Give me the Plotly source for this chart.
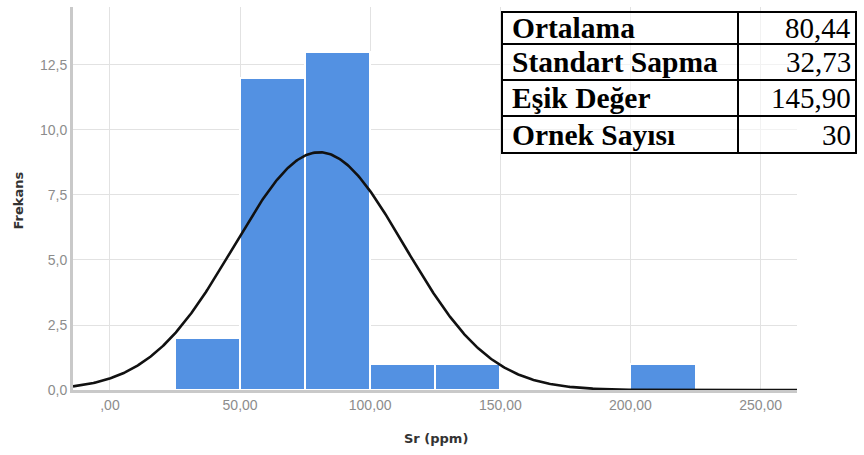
import numpy as np
import plotly.graph_objects as go

# Histogram of Sr (ppm): bin edges (width 25) and frequencies
bin_left = [25, 50, 75, 100, 125, 150, 175, 200]
bin_width = 25
counts = [2, 12, 13, 1, 1, 0, 0, 1]

# Summary statistics shown in the table
stat_labels = ["Ortalama", "Standart Sapma", "Eşik Değer", "Ornek Sayısı"]
stat_values = ["80,44", "32,73", "145,90", "30"]
mean_sr = 80.44
sd_sr = 32.73
n_samples = 30

# Axis ticks (Turkish decimal comma)
x_tickvals = [0, 50, 100, 150, 200, 250]
x_ticktext = [",00", "50,00", "100,00", "150,00", "200,00", "250,00"]
y_tickvals = [0, 2.5, 5, 7.5, 10, 12.5]
y_ticktext = ["0,0", "2,5", "5,0", "7,5", "10,0", "12,5"]

X_RANGE = [-14.2, 264]
Y_RANGE = [0, 14.73]

centers = [b + bin_width / 2 for b in bin_left]

# Fitted normal curve scaled to histogram frequencies
xs = np.linspace(X_RANGE[0], X_RANGE[1], 600)
ys = n_samples * bin_width / (sd_sr * np.sqrt(2 * np.pi)) * np.exp(-0.5 * ((xs - mean_sr) / sd_sr) ** 2)

fig = go.Figure()
fig.add_trace(go.Bar(
    x=centers, y=counts, width=bin_width,
    marker=dict(color="#5391e2", line=dict(color="white", width=2)),
    hoverinfo="skip",
))
fig.add_trace(go.Scatter(
    x=xs, y=ys, mode="lines",
    line=dict(color="#111111", width=2.6),
    hoverinfo="skip",
))

W, H = 864, 455
L, R, T, B = 73, 797, 7, 390


def px(x):
    return (x - L) / (R - L)


def py(y):
    return (B - y) / (B - T)


shapes = []
annotations = []

# Statistics table
tbl_left, tbl_right, col_split = 502, 856, 738
row_edges = [12, 44, 80, 116, 153]
shapes.append(dict(type="rect", xref="paper", yref="paper",
                   x0=px(tbl_left), x1=px(tbl_right), y0=py(row_edges[-1]), y1=py(row_edges[0]),
                   line=dict(color="black", width=2), fillcolor="rgba(255,255,255,0.55)", layer="above"))
for ye in row_edges[1:-1]:
    shapes.append(dict(type="line", xref="paper", yref="paper",
                       x0=px(tbl_left), x1=px(tbl_right), y0=py(ye), y1=py(ye),
                       line=dict(color="black", width=2)))
shapes.append(dict(type="line", xref="paper", yref="paper",
                   x0=px(col_split), x1=px(col_split), y0=py(row_edges[0]), y1=py(row_edges[-1]),
                   line=dict(color="black", width=2)))

for i, (lab, val) in enumerate(zip(stat_labels, stat_values)):
    yc = (row_edges[i] + row_edges[i + 1]) / 2
    annotations.append(dict(xref="paper", yref="paper", x=px(tbl_left + 8), y=py(yc),
                            xanchor="left", yanchor="middle", showarrow=False,
                            text="<b>" + lab + "</b>",
                            font=dict(family="Liberation Serif", size=29.5, color="black")))
    annotations.append(dict(xref="paper", yref="paper", x=px(tbl_right - 3), y=py(yc),
                            xanchor="right", yanchor="middle", showarrow=False,
                            text=val,
                            font=dict(family="Liberation Serif", size=29, color="black")))

# Axis titles
annotations.append(dict(xref="paper", yref="paper", x=px(17.5), y=py(201),
                        xanchor="center", yanchor="middle", showarrow=False, textangle=-90,
                        text="<b>Frekans</b>",
                        font=dict(family="DejaVu Sans", size=13, color="#333333")))
annotations.append(dict(xref="paper", yref="paper", x=px(435.5), y=py(438),
                        xanchor="center", yanchor="middle", showarrow=False,
                        text="<b>Sr (ppm)</b>",
                        font=dict(family="DejaVu Sans", size=13, color="#333333")))

fig.update_layout(
    width=W, height=H,
    margin=dict(l=L, r=W - R, t=T, b=H - B),
    paper_bgcolor="white", plot_bgcolor="white",
    showlegend=False, bargap=0,
    shapes=shapes, annotations=annotations,
    font=dict(family="Arial, Liberation Sans", size=14, color="#8a8a8a"),
)
fig.update_xaxes(
    range=X_RANGE, tickvals=x_tickvals, ticktext=x_ticktext,
    showgrid=True, gridcolor="#e2e2e2", gridwidth=1.2,
    zeroline=False, showline=True, linecolor="#c9c9c9", linewidth=3,
    ticks="", tickfont=dict(size=14, color="#8c8c8c"),
)
fig.update_yaxes(
    range=Y_RANGE, tickvals=y_tickvals, ticktext=y_ticktext,
    showgrid=True, gridcolor="#e2e2e2", gridwidth=1.2,
    zeroline=False, showline=True, linecolor="#c9c9c9", linewidth=3,
    ticks="", tickfont=dict(size=14, color="#8c8c8c"),
)

fig.write_html("out.html")
